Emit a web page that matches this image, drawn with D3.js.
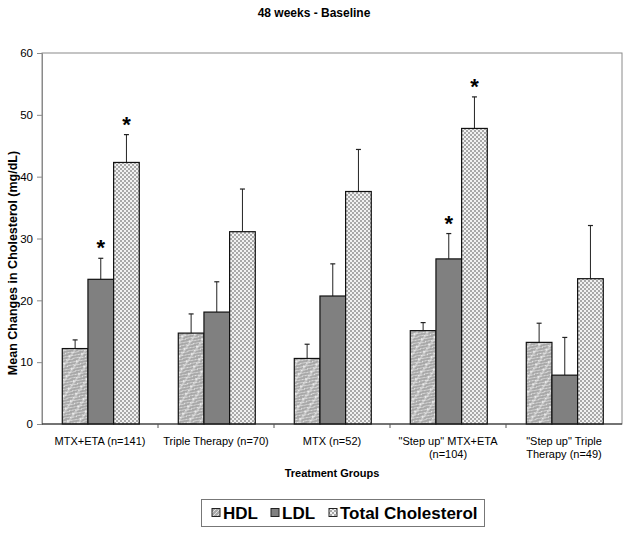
<!DOCTYPE html>
<html>
<head>
<meta charset="utf-8">
<script src="https://cdn.jsdelivr.net/npm/d3@7"></script>
<style>
html,body{margin:0;padding:0;background:#fff;}
svg{display:block;font-family:"Liberation Sans",Arial,sans-serif;}
</style>
</head>
<body>
<svg id="chart" width="629" height="535"></svg>
<script>
const categories = [["MTX+ETA (n=141)"], ["Triple Therapy (n=70)"], ["MTX (n=52)"], ["\"Step up\" MTX+ETA", "(n=104)"], ["\"Step up\" Triple", "Therapy (n=49)"]];
const seriesNames = ["HDL", "LDL", "Total Cholesterol"];
const hdl = [12.2, 14.7, 10.6, 15.1, 13.2];
const hdlErr = [1.4, 3.1, 2.3, 1.3, 3.1];
const ldl = [23.4, 18.1, 20.7, 26.7, 7.9];
const ldlErr = [3.4, 4.9, 5.2, 4.1, 6.1];
const tc = [42.3, 31.1, 37.6, 47.8, 23.5];
const tcErr = [4.5, 6.9, 6.8, 5.1, 8.6];
const ldlStar = [true, false, false, true, false];
const tcStar = [true, false, false, true, false];
const yTicks = [0, 10, 20, 30, 40, 50, 60];

const svg = d3.select("#chart");
const m = {left: 42, right: 7, top: 53, bottom: 111};
const W = 629, H = 535;
const x0 = m.left, x1 = W - m.right, y0 = H - m.bottom, y1 = m.top;

const defs = svg.append("defs");
// HDL pattern: fine gray checker with diagonal stripes
const pH = defs.append("pattern").attr("id", "pHDL").attr("patternUnits", "userSpaceOnUse").attr("width", 4).attr("height", 4);
pH.append("rect").attr("width", 4).attr("height", 4).attr("fill", "#a8a8a8");
pH.append("rect").attr("x", 0).attr("y", 0).attr("width", 1).attr("height", 1).attr("fill", "#e4e4e4");
pH.append("rect").attr("x", 2).attr("y", 2).attr("width", 1).attr("height", 1).attr("fill", "#e4e4e4");
pH.append("rect").attr("x", 1).attr("y", 3).attr("width", 1).attr("height", 1).attr("fill", "#d8d8d8");
pH.append("rect").attr("x", 3).attr("y", 1).attr("width", 1).attr("height", 1).attr("fill", "#d8d8d8");
const pH2 = defs.append("pattern").attr("id", "pHDLs").attr("patternUnits", "userSpaceOnUse").attr("width", 9).attr("height", 9).attr("patternTransform", "rotate(35)");
pH2.append("rect").attr("width", 9).attr("height", 9).attr("fill", "url(#pHDL)");
pH2.append("rect").attr("width", 2).attr("height", 9).attr("fill", "#ffffff").attr("opacity", 0.35);
// TC pattern: white/gray checker
const pT = defs.append("pattern").attr("id", "pTC").attr("patternUnits", "userSpaceOnUse").attr("width", 4).attr("height", 4);
pT.append("rect").attr("width", 4).attr("height", 4).attr("fill", "#f2f2f2");
pT.append("rect").attr("x", 0).attr("y", 0).attr("width", 2).attr("height", 2).attr("fill", "#a9a9a9");
pT.append("rect").attr("x", 2).attr("y", 2).attr("width", 2).attr("height", 2).attr("fill", "#a9a9a9");
const fills = ["url(#pHDLs)", "#808080", "url(#pTC)"];

const y = d3.scaleLinear().domain([0, 60]).range([y0, y1]);
const xb = d3.scaleBand().domain(d3.range(categories.length)).range([x0, x1]).paddingInner(0).paddingOuter(0);
const xs = d3.scaleBand().domain(d3.range(3)).range([0, xb.bandwidth()]).paddingOuter(0.76).paddingInner(0).align(0.52);

// Title
svg.append("text").attr("x", 314).attr("y", 17).attr("text-anchor", "middle")
  .attr("font-size", 12).attr("font-weight", "bold").text("48 weeks - Baseline");

// Frame
svg.append("rect").attr("x", x0).attr("y", y1).attr("width", x1 - x0).attr("height", y0 - y1)
  .attr("fill", "none").attr("stroke", "#8a8a8a").attr("stroke-width", 1);

// Y axis
const yAxis = svg.append("g").attr("transform", `translate(${x0},0)`)
  .call(d3.axisLeft(y).tickValues(yTicks).tickSize(5).tickPadding(4));
yAxis.select(".domain").attr("stroke", "#8a8a8a");
yAxis.selectAll(".tick line").attr("stroke", "#8a8a8a");
yAxis.selectAll("text").attr("font-size", 11.5).attr("fill", "#000").attr("font-family", "Liberation Sans, Arial, sans-serif");

// Bars
const series = [
  {vals: hdl, err: hdlErr, star: null},
  {vals: ldl, err: ldlErr, star: ldlStar},
  {vals: tc, err: tcErr, star: tcStar}
];
series.forEach((s, si) => {
  const g = svg.append("g");
  s.vals.forEach((v, ci) => {
    const bx = xb(ci) + xs(si);
    const bw = xs.bandwidth();
    const cx = bx + bw / 2;
    // error bar
    g.append("line").attr("x1", cx).attr("x2", cx).attr("y1", y(v)).attr("y2", y(v + s.err[ci]))
      .attr("stroke", "#222").attr("stroke-width", 1);
    g.append("line").attr("x1", cx - 2.5).attr("x2", cx + 2.5).attr("y1", y(v + s.err[ci])).attr("y2", y(v + s.err[ci]))
      .attr("stroke", "#222").attr("stroke-width", 1.2);
    g.append("rect").attr("x", bx).attr("y", y(v)).attr("width", bw).attr("height", y(0) - y(v))
      .attr("fill", fills[si]).attr("stroke", "#111").attr("stroke-width", 1.2);
    if (s.star && s.star[ci]) {
      g.append("text").attr("x", cx).attr("y", y(v + s.err[ci]) - 3).attr("text-anchor", "middle")
        .attr("font-size", 22).attr("font-weight", "bold").text("*");
    }
  });
});

// X axis
const xAxisG = svg.append("g").attr("transform", `translate(0,${y0})`);
xAxisG.append("line").attr("x1", x0).attr("x2", x1).attr("stroke", "#222").attr("stroke-width", 1);
d3.range(1, categories.length).forEach(i => {
  xAxisG.append("line").attr("x1", xb(i)).attr("x2", xb(i)).attr("y1", 0).attr("y2", 4).attr("stroke", "#555");
});
categories.forEach((lines, ci) => {
  const t = xAxisG.append("text").attr("text-anchor", "middle").attr("font-size", 11)
    .attr("x", xb(ci) + xb.bandwidth() / 2).attr("y", 21);
  lines.forEach((l, li) => t.append("tspan").attr("x", xb(ci) + xb.bandwidth() / 2).attr("dy", li === 0 ? 0 : 13).text(l));
});

// Axis titles
svg.append("text").attr("x", 332).attr("y", 477).attr("text-anchor", "middle")
  .attr("font-size", 11).attr("font-weight", "bold").text("Treatment Groups");
svg.append("text").attr("transform", `translate(17,263) rotate(-90)`).attr("text-anchor", "middle")
  .attr("font-size", 12.5).attr("font-weight", "bold").text("Mean Changes in Cholesterol (mg/dL)");

// Legend
const lg = svg.append("g");
lg.append("rect").attr("x", 201.5).attr("y", 499.5).attr("width", 283).attr("height", 27)
  .attr("fill", "#fff").attr("stroke", "#777");
const lx = [212, 271, 329];
seriesNames.forEach((n, i) => {
  lg.append("rect").attr("x", lx[i]).attr("y", 508.5).attr("width", 8).attr("height", 8)
    .attr("fill", fills[i] === "url(#pHDLs)" ? "url(#pHDL)" : fills[i]).attr("stroke", "#222").attr("stroke-width", 1);
  lg.append("text").attr("x", lx[i] + 11).attr("y", 519).attr("font-size", 17).attr("font-weight", "bold").text(n);
});
</script>
</body>
</html>
